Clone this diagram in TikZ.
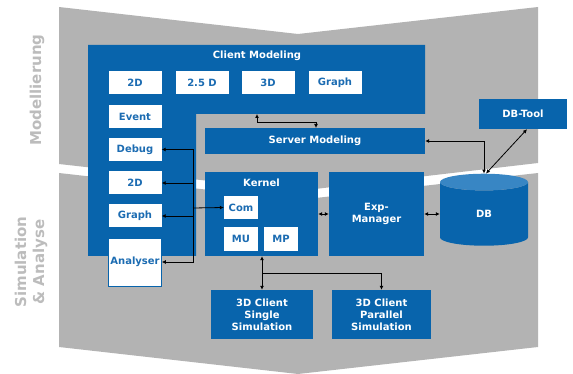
\documentclass[tikz,border=0pt]{standalone}
\usepackage{fontspec}
\setmainfont{DejaVu Sans}
\usetikzlibrary{arrows.meta,shapes.geometric}
\definecolor{bandgray}{RGB}{179,179,179}
\definecolor{labgray}{RGB}{188,188,188}
\definecolor{cmblue}{RGB}{8,100,172}
\definecolor{dbtop}{RGB}{56,134,196}
\definecolor{wtext}{RGB}{28,108,178}
\tikzset{
  band/.style={fill=bandgray,draw=none},
  side/.style={font=\fontsize{15}{18}\selectfont\bfseries,text=labgray,rotate=90,align=center},
  bbox/.style={fill=cmblue,draw=none,text=white,font=\fontsize{10}{12}\selectfont\bfseries,align=center,inner sep=1pt},
  wbox/.style={fill=white,draw=none,text=wtext,font=\fontsize{10}{12}\selectfont\bfseries,inner sep=1pt,minimum width=53,minimum height=23},
  ttl/.style={text=white,font=\fontsize{10}{12}\selectfont\bfseries,inner sep=1pt},
  dbcyl/.style={cylinder,shape border rotate=90,aspect=1.05,minimum width=88,minimum height=72,
    cylinder uses custom fill,cylinder body fill=cmblue,cylinder end fill=dbtop,inner sep=0pt,
    text=white,font=\fontsize{10}{12}\selectfont\bfseries},
  arr/.style={-{Latex[length=4pt,width=4pt]},line width=0.8pt,black},
  dbl/.style={{Latex[length=4pt,width=4pt]}-{Latex[length=4pt,width=4pt]},line width=0.8pt,black},
}
\begin{document}
\begin{tikzpicture}[x=1pt,y=-1pt]
  \useasboundingbox (0,0) rectangle (573,374);
  % the two bands
  \fill[band] (59,7) -- (298,34) -- (538,7) -- (538,163) -- (298,191) -- (59,164) -- cycle;
  \fill[band] (59,173) -- (298,200) -- (538,173) -- (538,347) -- (298,374) -- (59,347) -- cycle;
  \node[side] (modlab) at (37,90) {Modellierung};
  \node[side] (simlab) at (31,262) {Simulation\\\& Analyse};
  % client modeling
  \fill[cmblue] (88,45) -- (425,45) -- (425,114) -- (196,114) -- (196,256) -- (88,256) -- cycle;
  \node[ttl] (cmtitle) at (257,56) {Client Modeling};
  \node[wbox] (cm2d) at (135,82.5) {2D};
  \node[wbox] (cm25d) at (202,82.5) {2.5 D};
  \node[wbox] (cm3d) at (268,82.5) {3D};
  \node[wbox] (cmgraph) at (335,82.5) {Graph};
  \node[wbox] (event) at (135,116.5) {Event};
  \node[wbox] (debug) at (135,149.5) {Debug};
  \node[wbox] (an2d) at (135,183) {2D};
  \node[wbox] (angraph) at (135,216) {Graph};
  \node[wbox,draw=cmblue,line width=0.6pt,minimum height=48] (analyser) at (135,262) {Analyser};
  % server side
  \node[bbox,minimum width=220,minimum height=26] (server) at (315,141) {Server Modeling};
  \node[bbox,minimum width=113,minimum height=84,
    label={[ttl,anchor=north,yshift=-6pt]north:Kernel}] (kernel) at (261.5,214) {};
  \node[wbox,minimum width=34] (com) at (241,207.5) {Com};
  \node[wbox,minimum width=34,minimum height=24] (mu) at (241,239) {MU};
  \node[wbox,minimum width=34,minimum height=24] (mp) at (281,239) {MP};
  \node[bbox,minimum width=95,minimum height=84] (expman) at (376.5,214) {Exp-\\Manager};
  \node[dbcyl] (db) at (484,214) {DB};
  \node[bbox,minimum width=88,minimum height=30] (dbtool) at (523,114) {DB-Tool};
  \node[bbox,minimum width=102,minimum height=49] (single) at (262,314.5) {3D Client\\Single\\Simulation};
  \node[bbox,minimum width=99,minimum height=49] (parallel) at (381.5,314.5) {3D Client\\Parallel\\Simulation};
  % connectors
  \coordinate (bus) at (193,208);
  \coordinate (cmlink) at (257,114);
  \coordinate (smlink) at (316,128);
  \coordinate (split) at (262,273);
  \draw[arr] (bus) -- (com.west);
  \draw[arr] (bus) |- (debug.east);
  \draw[arr] (bus) |- (an2d.east);
  \draw[arr] (bus) |- (angraph.east);
  \draw[arr] (bus) |- (analyser.east);
  \draw[dbl] (cmlink) -- ++(0,8) -| (smlink);
  \draw[dbl] (server.east) -| (db.north);
  \draw[dbl] ([xshift=4pt]dbtool.south) -- ([xshift=2pt]db.north);
  \draw[dbl] (kernel.east) -- (expman.west);
  \draw[dbl] (expman.east) -- (db.west |- expman.east);
  \draw[dbl] (kernel.south -| split) -- (single.north -| split);
  \draw[arr] (split) -| (parallel.north);
\end{tikzpicture}
\end{document}
